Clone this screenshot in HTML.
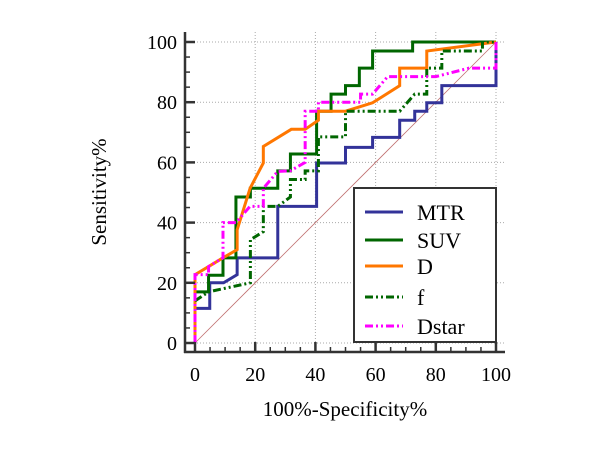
<!DOCTYPE html>
<html><head><meta charset="utf-8"><style>
body{margin:0;background:#fff}
svg{display:block;font-family:"Liberation Serif",serif}
</style></head><body>
<svg id="chart" width="600" height="450">
<g id="grid"></g>
<line x1="195" y1="343" x2="496" y2="42" stroke="#c07070" stroke-width="0.8"/>
<g id="series"></g>
<g id="axes"></g>
<text x="0" y="0" transform="translate(106,192) rotate(-90)" text-anchor="middle" font-size="21">Sensitivity%</text>
<text x="345" y="416" text-anchor="middle" font-size="21">100%-Specificity%</text>
<g id="legend"></g>
</svg>
<script>
const xTicks=[0,20,40,60,80,100];
const yTicks=[0,20,40,60,80,100];
const seriesNames=["MTR","SUV","D","f","Dstar"];
const mtr=[[0,0],[0,11.5],[4.9,11.5],[4.9,20],[9.5,20],[14,22.7],[14,28.3],[27.5,28.3],[27.5,45.4],[40.4,45.4],[40.4,59.8],[50,59.8],[50,65],[59,65],[59,68.3],[68,68.3],[68,74],[73,74],[73,77],[77,77],[77,79.8],[82,79.8],[82,85.5],[100,85.5],[100,100]];
const suv=[[0,0],[0,17],[4.5,17],[4.5,22.5],[9.3,22.5],[9.3,28.3],[13.6,28.3],[13.6,48.5],[18.4,48.5],[18.4,51.4],[27.5,51.4],[27.5,57.2],[31.7,57.2],[31.7,62.8],[40.4,62.8],[40.4,77],[45.2,77],[45.2,82.7],[50,82.7],[50,85.5],[54.6,85.5],[54.6,91.3],[59,91.3],[59,97],[72.3,97],[72.3,100],[100,100]];
const dSer=[[0,0],[0,22.7],[4.5,25.4],[9.3,28.3],[14,31],[14,37.6],[18.3,51.4],[22.7,59.8],[22.7,65.3],[32,71],[36.6,71],[41,74],[41,77],[50,77],[59,79.8],[68,85.5],[68,91.3],[77,91.3],[77,97],[100,100]];
const fSer=[[0,0],[0,14],[4.5,17],[18.4,20],[18.4,34.3],[22.7,37],[22.7,45.4],[27.5,45.4],[31.7,48.5],[31.7,54.3],[36.6,54.3],[36.6,57.2],[41,57.2],[41,68.5],[50,68.5],[50,77],[68,77],[73,82.7],[77,82.7],[77,91.3],[82,91.3],[82,97],[95.5,97],[95.5,100],[100,100]];
const dstar=[[0,0],[0,22.7],[4.5,22.7],[4.5,25.4],[9.3,28.3],[9.3,40],[13.6,40],[18.3,45.4],[22.7,45.4],[22.7,51.4],[27.5,57],[31.7,57.2],[36.6,60],[36.6,77],[41,77],[41,80],[55,80],[55,82.7],[59,82.7],[64,88.5],[80,88.5],[91,91.3],[100,91.3],[100,100]];
const allData=[mtr,suv,dSer,fSer,dstar];
const styles=[{c:"#333399",d:""},{c:"#006600",d:""},{c:"#ff7700",d:""},{c:"#006600",d:"8,3,2,3,2,3"},{c:"#ff00ff",d:"8,3,2,3,2,3"}];
const X=v=>195+v*3.01, Y=v=>343-v*3.01;
const NS="http://www.w3.org/2000/svg";
function mk(t,a,p){const e=document.createElementNS(NS,t);for(const k in a)e.setAttribute(k,a[k]);p.appendChild(e);return e;}
const grid=document.getElementById('grid'),axes=document.getElementById('axes'),ser=document.getElementById('series'),leg=document.getElementById('legend');
xTicks.forEach(v=>{if(v>0){const l=mk('line',{x1:X(v),x2:X(v),y1:32,y2:352,stroke:'#aaa','stroke-dasharray':'1,2'},grid);}});
yTicks.forEach(v=>{const l=mk('line',{x1:185,x2:505,y1:Y(v),y2:Y(v),stroke:'#aaa','stroke-dasharray':'1,2'},grid);});
mk('line',{x1:185,x2:185,y1:32,y2:353,stroke:'#333','stroke-width':2.5},axes);
mk('line',{x1:184,x2:505,y1:352,y2:352,stroke:'#333','stroke-width':2.5},axes);
for(let v=0;v<=100;v+=5){const maj=v%20==0;
mk('line',{x1:185,x2:185+(maj?10:5),y1:Y(v),y2:Y(v),stroke:'#333','stroke-width':maj?2.5:1.5},axes);
mk('line',{x1:X(v),x2:X(v),y1:352,y2:352-(maj?10:5),stroke:'#333','stroke-width':maj?2.5:1.5},axes);}
xTicks.forEach(v=>{const t=mk('text',{x:X(v),y:381,'text-anchor':'middle','font-size':20},axes);t.textContent=v;});
yTicks.forEach(v=>{const t=mk('text',{x:177,y:Y(v)+7,'text-anchor':'end','font-size':20},axes);t.textContent=v;});
allData.forEach((s,i)=>{const p=mk('polyline',{points:s.map(q=>X(q[0])+','+Y(q[1])).join(' '),fill:'none',stroke:styles[i].c,'stroke-width':3,'stroke-dasharray':styles[i].d},ser);
});
mk('rect',{x:354,y:188,width:142,height:154,fill:'#fff',stroke:'#333','stroke-width':2},leg);
const ly=[212,240,266,297,326];
seriesNames.forEach((n,i)=>{const g=mk('g',{},leg);
mk('line',{x1:365,x2:403,y1:ly[i],y2:ly[i],stroke:styles[i].c,'stroke-width':3,'stroke-dasharray':styles[i].d},g);
const t=mk('text',{x:417,y:ly[i]+8,'font-size':22},g);t.textContent=n;});
</script>
</body></html>
